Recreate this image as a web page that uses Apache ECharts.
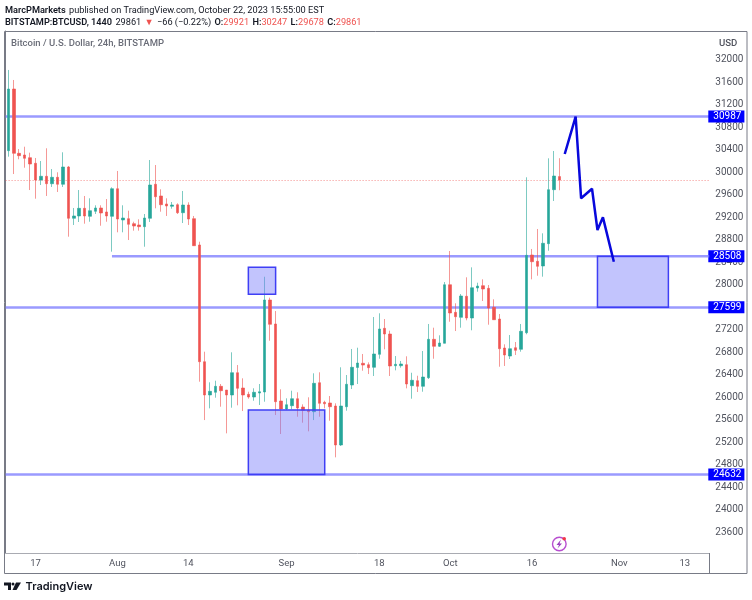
<!DOCTYPE html>
<html>
<head>
<meta charset="utf-8">
<title>BTCUSD</title>
<script src="https://cdn.jsdelivr.net/npm/echarts@6/dist/echarts.min.js"></script>
<style>
  html, body { margin: 0; padding: 0; background: #ffffff; }
  #chart { width: 752px; height: 600px; }
</style>
</head>
<body>
<div id="chart"></div>
<script>
// daily candles (first bar sits on 12 Jul on the axis)
var opens = [30381,31476,30334,30304,30256,30157,29860,29926,29794,29908,29784,30091,29180,29221,29357,29215,29304,29363,29292,29215,29705,29150,29173,29084,29061,29031,29180,29784,29576,29434,29393,29421,29279,29416,29173,28706,26633,26042,26090,26196,26130,26042,26438,26166,26054,26006,26077,26095,27729,27303,25935,25793,25852,25976,25828,25775,25745,26260,25912,25900,25846,25154,25834,26219,26531,26605,26580,26534,26764,27226,27125,26562,26562,26580,26207,26296,26196,26349,27031,26907,26960,28000,27510,27421,27795,27409,27942,27983,27936,27599,27391,26876,26734,26882,26853,27148,28528,28416,28333,28729,29688,29921];
var closes = [31476,30334,30292,30245,30144,29860,29926,29794,29908,29784,30091,29180,29221,29357,29221,29315,29363,29274,29221,29705,29167,29185,29073,29043,29031,29185,29771,29563,29421,29398,29416,29279,29416,29167,28693,26633,26042,26107,26196,26118,26042,26438,26161,26042,26006,26090,26100,27729,27297,25923,25793,25869,25976,25811,25770,25745,26249,25894,25887,25834,25154,25846,26232,26534,26610,26574,26527,26770,27214,27125,26557,26587,26592,26237,26303,26196,26361,27031,26907,26965,28000,27498,27432,27800,27409,27947,27977,27924,27587,27379,26864,26752,26864,26835,27173,28523,28409,28327,28736,29688,29931,29861];
var lows = [30274,29966,30228,30078,29682,29528,29771,29576,29736,29647,29736,28853,29061,29114,29084,29119,29256,29048,29119,28587,28931,28931,28794,28960,28960,28675,29114,29357,29297,29221,29350,29256,29096,29061,28688,26278,25597,25805,25994,25834,25361,25816,25859,25757,25976,25940,25864,25923,27006,25686,25349,25775,25788,25656,25550,25397,25597,25656,25805,25585,24935,25136,25763,26148,26237,26473,26414,26379,26686,26853,26379,26480,26527,26160,25976,26095,26100,26326,26686,26894,26960,27343,27178,27237,27368,27191,27876,27711,27290,27374,26544,26557,26681,26752,26811,27120,28096,28160,28143,28604,29487,29678];
var highs = [31814,31636,30410,30451,30345,30251,30197,30423,30055,29997,30352,30109,29363,29682,29576,29535,29411,29411,29522,29730,30020,29411,29315,29119,29162,29256,30215,30126,29695,29535,29469,29446,29665,29464,29221,28764,26811,26267,26296,26237,26130,26800,26574,26338,26100,26161,26237,28142,27770,27533,26143,25983,26118,26090,25876,26001,26427,26445,25940,26024,25894,26534,26397,26859,26882,26770,26622,27427,27493,27391,27184,26734,26646,26729,26437,26384,26823,27303,27237,27102,28048,28599,27670,27835,28132,28309,28036,28096,27995,27741,27480,26942,27107,26983,27303,29908,28635,28990,28913,30245,30375,30247];

var priceTicks = [23600,24000,24400,24800,25200,25600,26000,26400,26800,27200,27600,28000,28400,28800,29200,29600,30000,30400,30800,31200,31600,32000];
var tickDates = ['2023-07-17','2023-08-01','2023-08-14','2023-09-01','2023-09-18','2023-10-01','2023-10-16','2023-11-01','2023-11-13'];
var tickNames = ['17','Aug','14','Sep','18','Oct','16','Nov','13'];

// horizontal levels drawn on the chart
var levelPrices = [30987,28508,27599,24632];
var lastPrice = 29861;
// 28508 only starts at the 19th day slot, runs to the price scale
var partialLevelSlots = [19.5, 129];
var partialLevelPrices = [28508, 28508];

// zones
var boxFrom = ['2023-08-25','2023-08-25','2023-10-28'];
var boxTo = ['2023-08-30','2023-09-08','2023-11-10'];
var boxTop = [28309,25775,28508];
var boxBottom = [27830,24632,27599];

// hand drawn projection
var pathDates = ['2023-10-22','2023-10-24','2023-10-25','2023-10-27','2023-10-28','2023-10-29','2023-10-31'];
var pathPrices = [30322,30987,29535,29705,28972,29197,28409];

var FONT = 'Roboto, sans-serif';
var NARROW = '"Liberation Sans Narrow", Roboto, sans-serif';
var UP = '#26a69a', DOWN = '#ef5350';
var LEVEL = 'rgba(120,120,255,0.75)';

// one slot per calendar day, runs on past the last candle
var categories = [];
for (var i = 0; i < 129; i++) {
  categories.push(new Date(Date.UTC(2023, 6, 12 + i)).toISOString().slice(0, 10));
}

var candles = [];
for (var c = 0; c < opens.length; c++) {
  candles.push([opens[c], closes[c], lows[c], highs[c]]);
}

var levelLines = levelPrices.map(function (p) {
  var item = {
    yAxis: p,
    label: { show: true, formatter: String(p) }
  };
  if (p === 28508) item.lineStyle = { color: 'rgba(0,0,0,0)' }; // label only, line is its own series
  return item;
});
levelLines.push({
  yAxis: lastPrice,
  label: { show: false },
  lineStyle: { color: 'rgba(239,83,80,0.65)', width: 1, type: [1, 2] }
});

var zones = boxFrom.map(function (d, k) {
  return [
    { coord: [d, boxTop[k]] },
    { coord: [boxTo[k], boxBottom[k]] }
  ];
});

var myChart = echarts.init(document.getElementById('chart'), null, { renderer: 'canvas' });
myChart.setOption({
  animation: false,
  backgroundColor: '#ffffff',
  grid: { left: 5.6, right: 42.7, top: 31, bottom: 47, containLabel: false },
  xAxis: [{
    type: 'category',
    data: categories,
    boundaryGap: true,
    axisLine: { show: true, lineStyle: { color: '#a9abb2', width: 1 } },
    axisTick: { show: false },
    splitLine: { show: false },
    axisLabel: {
      color: '#50535e',
      fontFamily: FONT,
      fontSize: 9.5,
      margin: 6,
      interval: function (idx, val) { return tickDates.indexOf(val) >= 0; },
      formatter: function (val) { return tickNames[tickDates.indexOf(val)]; }
    }
  }, {
    // same width as the day slots, only for the partial level line
    type: 'value',
    show: false,
    min: 0,
    max: 129
  }],
  yAxis: {
    type: 'value',
    position: 'right',
    min: 23236,
    max: 32506,
    splitLine: { show: false },
    axisTick: { show: false },
    axisLine: { show: true, lineStyle: { color: '#787b86', width: 1 } },
    axisLabel: {
      customValues: priceTicks,
      color: '#50535e',
      fontFamily: NARROW,
      fontSize: 10,
      margin: 6,
      formatter: function (v) { return String(v); }
    }
  },
  series: [
    {
      type: 'candlestick',
      name: 'BTCUSD',
      data: candles,
      barWidth: 3,
      z: 3,
      itemStyle: {
        color: UP,
        color0: DOWN,
        borderColor: 'rgba(38,166,154,0.6)',
        borderColor0: 'rgba(239,83,80,0.6)',
        borderWidth: 1
      },
      markLine: {
        silent: true,
        symbol: 'none',
        z: 2,
        lineStyle: { color: LEVEL, width: 2.5, type: 'solid' },
        label: {
          position: 'end',
          distance: -1,
          color: '#ffffff',
          backgroundColor: '#0000ff',
          fontFamily: NARROW,
          fontSize: 10,
          padding: [1, 3, 1, 5]
        },
        data: levelLines
      },
      markArea: {
        silent: true,
        z: 4,
        itemStyle: {
          color: 'rgba(120,125,250,0.45)',
          borderColor: '#3f3ff5',
          borderWidth: 1.5
        },
        data: zones
      }
    },
    {
      type: 'line',
      name: 'level',
      xAxisIndex: 1,
      data: partialLevelSlots.map(function (s, k) { return [s, partialLevelPrices[k]]; }),
      symbol: 'none',
      z: 2,
      lineStyle: { color: LEVEL, width: 2.5 }
    },
    {
      type: 'line',
      name: 'projection',
      data: pathDates.map(function (d, k) { return [d, pathPrices[k]]; }),
      symbol: 'none',
      z: 6,
      lineStyle: { color: '#0808dc', width: 2.5 }
    }
  ],
  graphic: [
    { type: 'rect', shape: { x: 4.5, y: 31.5, width: 742.5, height: 542 }, style: { fill: 'none', stroke: '#787b86', lineWidth: 1 }, z: 1 },
    { type: 'line', shape: { x1: 709.5, y1: 553, x2: 709.5, y2: 573 }, style: { stroke: '#787b86', lineWidth: 1 }, z: 1 },
    {
      type: 'text', x: 5, y: 4.5, z: 10,
      style: {
        text: '{b|MarcPMarkets} {n|published on TradingView.com, October 22, 2023 15:55:00 EST}',
        rich: {
          b: { fontFamily: FONT, fontSize: 9.2, fontWeight: 600, fill: '#131722' },
          n: { fontFamily: FONT, fontSize: 9.2, fill: '#131722' }
        }
      }
    },
    {
      type: 'text', x: 5, y: 16.5, z: 10,
      style: {
        text: '{b|BITSTAMP:BTCUSD, 1440} {n|29861} {r|\u25BC} {n|\u221266 (\u22120.22%)} {b|O:}{r|29921} {b|H:}{r|30247} {b|L:}{r|29678} {b|C:}{r|29861}',
        rich: {
          b: { fontFamily: FONT, fontSize: 9.2, fontWeight: 600, fill: '#131722' },
          n: { fontFamily: FONT, fontSize: 9.2, fill: '#131722' },
          r: { fontFamily: FONT, fontSize: 9.2, fill: '#ef5350' }
        }
      }
    },
    {
      type: 'text', x: 11, y: 39, z: 10,
      style: { text: 'Bitcoin / U.S. Dollar, 24h, BITSTAMP', fontFamily: FONT, fontSize: 9.5, fontWeight: 500, fill: '#6a6d78' }
    },
    {
      type: 'text', x: 719, y: 39, z: 10,
      style: { text: 'USD', fontFamily: FONT, fontSize: 9.6, fontWeight: 500, fill: '#50535e' }
    },
    // event icon
    { type: 'circle', shape: { cx: 559.3, cy: 544, r: 6.8 }, style: { fill: '#ffffff', stroke: '#b84ed0', lineWidth: 1.4 }, z: 10 },
    { type: 'polygon', shape: { points: [[561, 539.5], [556.5, 545], [559, 545], [557.5, 548.5], [562, 543.5], [559.5, 543.5]] }, style: { fill: '#9c3fc0' }, z: 11 },
    { type: 'circle', shape: { cx: 564.2, cy: 538.7, r: 1.8 }, style: { fill: '#f23645' }, z: 12 },
    // logo
    { type: 'polygon', shape: { points: [[4, 582.5], [11, 582.5], [11, 590], [8, 590], [8, 585.5], [4, 585.5]] }, style: { fill: '#131722' }, z: 10 },
    { type: 'circle', shape: { cx: 13, cy: 584, r: 1.5 }, style: { fill: '#131722' }, z: 10 },
    { type: 'polygon', shape: { points: [[16, 582.5], [21, 582.5], [16.5, 590], [12.5, 590]] }, style: { fill: '#131722' }, z: 10 },
    {
      type: 'text', x: 25.5, y: 581, z: 10,
      style: { text: 'TradingView', fontFamily: 'Inter, sans-serif', fontSize: 11, fontWeight: 600, fill: '#131722' }
    }
  ]
});
</script>
</body>
</html>
